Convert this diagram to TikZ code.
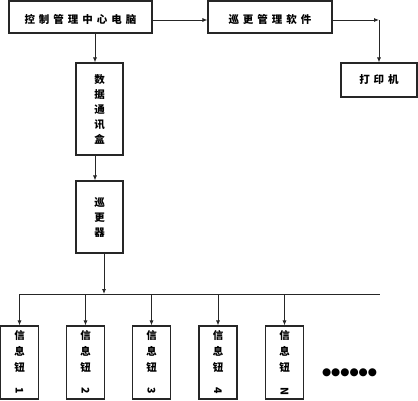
\documentclass[tikz,border=0pt]{standalone}
\usepackage{fontspec}
\usepackage{graphicx}
\newfontfamily\cjk{Noto Sans CJK SC}
\newfontfamily\symfont{DejaVu Sans}
\usetikzlibrary{arrows.meta,calc}
\newcommand{\gap}{\kern4pt}
\tikzset{
  box/.style={draw=black!85, line width=1.1pt, inner sep=0pt, font=\cjk\bfseries\fontsize{10.5}{15}\selectfont, align=center},
  hbox/.style={box, text height=13pt, text depth=1pt},
  conn/.style={draw=black!85, line width=0.8pt},
  arr/.style={conn, -{Latex[length=5pt,width=4pt]}}
}
\begin{document}
\begin{tikzpicture}[x=1pt,y=-1pt]
\useasboundingbox (0,0) rectangle (418,400);
\node[hbox, minimum width=143, minimum height=32] (A) at (80.5,17) {控\gap 制\gap 管\gap 理\gap 中\gap 心\gap 电\gap 脑};
\node[hbox, minimum width=124, minimum height=32] (B) at (270,17) {巡\gap 更\gap 管\gap 理\gap 软\gap 件};
\node[box, minimum width=76, minimum height=34] (P) at (379,80) {打\gap 印\gap 机};
\node[box, minimum width=47, minimum height=92] (D) at (99.5,109) {数\\据\\通\\讯\\盒};
\node[box, minimum width=47, minimum height=72] (R) at (99.5,217) {巡\\更\\器};
\foreach \i/\x/\n in {1/19.5/1,2/85.5/2,3/151.5/3,4/218/4,5/284.5/N}{
  \node[box, minimum width=38, minimum height=73, font=\cjk\bfseries\fontsize{10.5}{16}\selectfont] (I\i) at (\x,362.5) {信\\息\\钮\\\rotatebox{-90}{\n}};
}
\node[inner sep=0pt] (dots) at (349.5,373) {\resizebox{55pt}{!}{\symfont ●●●●●●}};
\coordinate (busL) at (19.5,294);
\coordinate (busR) at (380,294);
\draw[conn] (busL) -- (busR);
\draw[arr] ([yshift=-3pt]A.east) -- ([yshift=-3pt]A.east -| B.west);
\coordinate (C) at ([yshift=-3pt]B.east -| P.north);
\draw[arr] ([yshift=-3pt]B.east) -- (C);
\draw[arr] (C) -- (P.north);
\draw[arr] ([xshift=-4.5pt]D.north |- A.south) -- ([xshift=-4.5pt]D.north);
\draw[arr] ([xshift=-4.5pt]D.south) -- ([xshift=-4.5pt]R.north);
\draw[arr] ([xshift=4.5pt]R.south) -- ([xshift=4.5pt]R.south |- busL);
\foreach \i in {1,...,5}{
  \draw[arr] (I\i.north |- busL) -- (I\i.north);
}
\end{tikzpicture}
\end{document}
